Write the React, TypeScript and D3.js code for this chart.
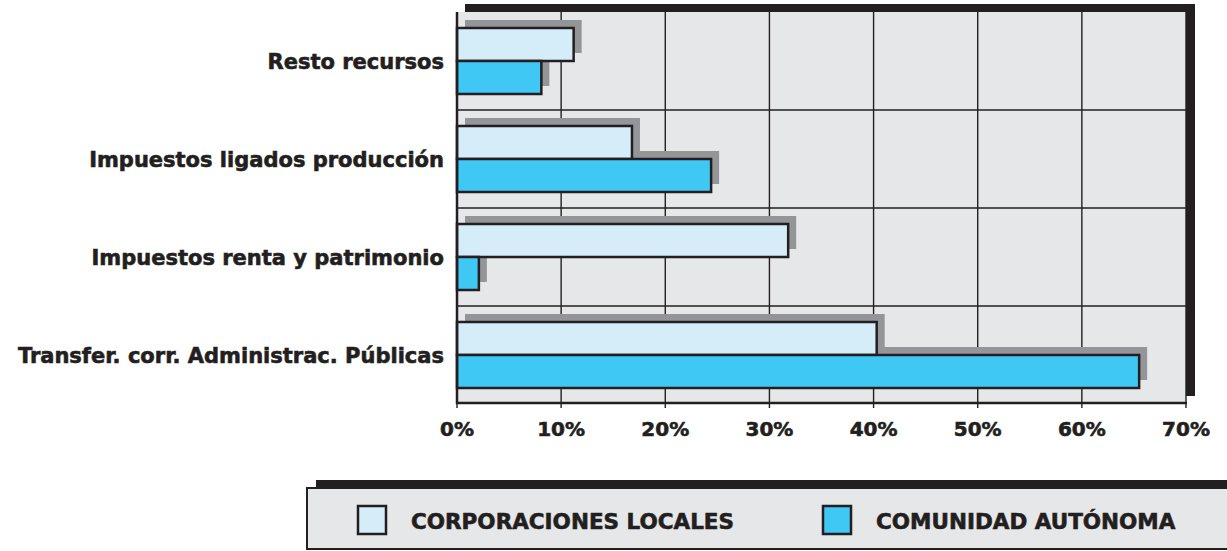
import React from "react";
import * as d3 from "d3";

const categories = [
  "Resto recursos",
  "Impuestos ligados producción",
  "Impuestos renta y patrimonio",
  "Transfer. corr. Administrac. Públicas",
];
const corporacionesLocales = [11.2, 16.8, 31.8, 40.3];
const comunidadAutonoma = [8.1, 24.4, 2.1, 65.5];
const ticks = [0, 10, 20, 30, 40, 50, 60, 70];
const seriesNames = ["CORPORACIONES LOCALES", "COMUNIDAD AUTÓNOMA"];
const seriesColors = ["#d5ecf9", "#40c8f4"];

const W = 1227;
const H = 551;
const DARK = "#231f20";
const BG = "#e6e7e8";
const SHADOW = "#939598";
const FONT = "'DejaVu Sans', sans-serif";

export default function App() {
  const left = 457;
  const right = 1186;
  const top = 12;
  const bottom = 404;
  const x = d3.scaleLinear().domain([0, 70]).range([left, right]);
  const y = d3.scaleBand<string>().domain(categories).range([top, bottom]);
  const barH = 33;
  const series = [corporacionesLocales, comunidadAutonoma];
  const off = 8;

  return (
    <svg
      width={W}
      height={H}
      style={{ position: "absolute", left: 0, top: 0, background: "#fff" }}
    >
      {/* plot frame shadow */}
      <rect x={left + off} y={top - off} width={right - left + 1} height={bottom - top} fill={DARK} />
      <rect x={left} y={top} width={right - left} height={bottom - top} fill={BG} />
      {/* vertical grid */}
      {ticks.map((t) => (
        <line key={"g" + t} x1={x(t)} x2={x(t)} y1={top} y2={bottom} stroke={DARK} strokeWidth={1.4} />
      ))}
      {/* horizontal grid */}
      {categories.slice(1).map((c) => (
        <line key={"h" + c} x1={left} x2={right} y1={y(c)!} y2={y(c)!} stroke={DARK} strokeWidth={1.4} />
      ))}
      {/* bar shadows */}
      {categories.map((c, i) => {
        const y0 = y(c)! + y.bandwidth() / 2 - barH;
        return series.map((s, k) => (
          <rect
            key={"s" + i + k}
            x={x(0) + off}
            y={y0 + k * barH - off}
            width={x(s[i]) - x(0)}
            height={barH}
            fill={SHADOW}
          />
        ));
      })}
      {/* bars */}
      {categories.map((c, i) => {
        const y0 = y(c)! + y.bandwidth() / 2 - barH;
        return series.map((s, k) => (
          <rect
            key={"b" + i + k}
            x={x(0)}
            y={y0 + k * barH}
            width={x(s[i]) - x(0)}
            height={barH}
            fill={seriesColors[k]}
            stroke={DARK}
            strokeWidth={2.5}
          />
        ));
      })}
      {/* axes */}
      <line x1={left} x2={left} y1={top} y2={bottom} stroke={DARK} strokeWidth={2.5} />
      <line x1={left - 1} x2={right + 1} y1={bottom - 1} y2={bottom - 1} stroke={DARK} strokeWidth={2.5} />
      {ticks.map((t) => (
        <line key={"t" + t} x1={x(t)} x2={x(t)} y1={bottom} y2={bottom + 4} stroke={DARK} strokeWidth={1.4} />
      ))}
      {ticks.map((t) => (
        <text
          key={"tl" + t}
          x={x(t)}
          y={436}
          textAnchor="middle"
          fontFamily={FONT}
          fontWeight="bold"
          fontSize={20}
          fill={DARK}
          stroke={DARK}
          strokeWidth={0.6}
        >
          {t + "%"}
        </text>
      ))}
      {/* category labels */}
      {categories.map((c) => (
        <text
          key={"c" + c}
          x={444}
          y={y(c)! + y.bandwidth() / 2 + 8}
          textAnchor="end"
          fontFamily={FONT}
          fontWeight="bold"
          fontSize={21}
          fill={DARK}
          stroke={DARK}
          strokeWidth={0.6}
        >
          {c}
        </text>
      ))}
      {/* legend */}
      <rect x={316} y={480} width={W} height={62} fill={DARK} />
      <rect x={307} y={488} width={W} height={61} fill={BG} stroke={DARK} strokeWidth={2} />
      {seriesNames.map((n, k) => {
        const sx = k === 0 ? 358 : 823;
        return (
          <g key={"l" + k}>
            <rect x={sx} y={506} width={28} height={28} fill={seriesColors[k]} stroke={DARK} strokeWidth={2.5} />
            <text
              x={sx + 53}
              y={529}
              fontFamily={FONT}
              fontWeight="bold"
              fontSize={21.5}
              fill={DARK}
              stroke={DARK}
              strokeWidth={0.6}
            >
              {n}
            </text>
          </g>
        );
      })}
    </svg>
  );
}
